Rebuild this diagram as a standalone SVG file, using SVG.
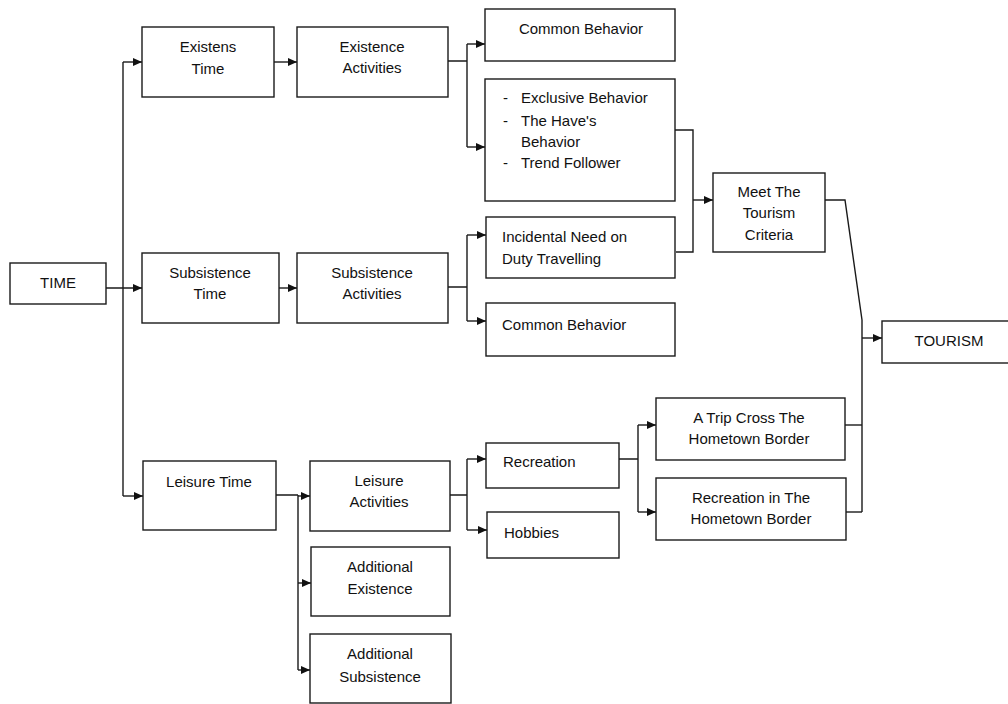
<svg xmlns="http://www.w3.org/2000/svg" width="1008" height="704" viewBox="0 0 1008 704">
<style>
.box{fill:#fff;stroke:#1a1a1a;stroke-width:1.4}
.t{font-family:"Liberation Sans",Arial,sans-serif;font-size:15px;fill:#111}
.c{text-anchor:middle}
.ln{fill:none;stroke:#1a1a1a;stroke-width:1.4}
</style>
<defs>
<marker id="ah" markerUnits="userSpaceOnUse" markerWidth="10" markerHeight="10" refX="9" refY="5" orient="auto">
<path d="M0,1 L9,5 L0,9 z" fill="#111"/>
</marker>
</defs>
<rect width="1008" height="704" fill="#fff"/>
<g id="connectors">
<path class="ln" d="M106,288 H142" marker-end="url(#ah)"/>
<path class="ln" d="M123,62 V496"/>
<path class="ln" d="M123,62 H142" marker-end="url(#ah)"/>
<path class="ln" d="M123,496 H143" marker-end="url(#ah)"/>
<path class="ln" d="M274,62 H297" marker-end="url(#ah)"/>
<path class="ln" d="M279,288 H297" marker-end="url(#ah)"/>
<path class="ln" d="M448,61 H467 M467,44 V147"/>
<path class="ln" d="M467,44 H485" marker-end="url(#ah)"/>
<path class="ln" d="M467,147 H485" marker-end="url(#ah)"/>
<path class="ln" d="M448,287 H467 M467,235 V321"/>
<path class="ln" d="M467,235 H486" marker-end="url(#ah)"/>
<path class="ln" d="M467,321 H486" marker-end="url(#ah)"/>
<path class="ln" d="M675,130 H693 V252 H676"/>
<path class="ln" d="M693,200 H713" marker-end="url(#ah)"/>
<path class="ln" d="M825,200 H845 L862,320 V512"/>
<path class="ln" d="M862,338 H882" marker-end="url(#ah)"/>
<path class="ln" d="M845,425 H862"/>
<path class="ln" d="M846,512 H862"/>
<path class="ln" d="M276,495 H298 M298,495 V670"/>
<path class="ln" d="M298,496 H310" marker-end="url(#ah)"/>
<path class="ln" d="M298,583 H311" marker-end="url(#ah)"/>
<path class="ln" d="M298,670 H310" marker-end="url(#ah)"/>
<path class="ln" d="M450,495 H467 M467,459 V530"/>
<path class="ln" d="M467,459 H486" marker-end="url(#ah)"/>
<path class="ln" d="M467,530 H487" marker-end="url(#ah)"/>
<path class="ln" d="M619,459 H638 M638,425 V512"/>
<path class="ln" d="M638,425 H656" marker-end="url(#ah)"/>
<path class="ln" d="M638,512 H656" marker-end="url(#ah)"/>
</g>
<g id="time"><rect class="box" x="10" y="263" width="96" height="41"/><text class="t c" x="58" y="288">TIME</text></g>
<g id="existens-time"><rect class="box" x="142" y="27" width="132" height="70"/><text class="t c" x="208" y="52">Existens</text><text class="t c" x="208" y="74">Time</text></g>
<g id="subsistence-time"><rect class="box" x="142" y="253" width="137" height="70"/><text class="t c" x="210" y="278">Subsistence</text><text class="t c" x="210" y="299">Time</text></g>
<g id="leisure-time"><rect class="box" x="143" y="461" width="133" height="69"/><text class="t c" x="209" y="487">Leisure Time</text></g>
<g id="existence-activities"><rect class="box" x="297" y="27" width="151" height="70"/><text class="t c" x="372" y="52">Existence</text><text class="t c" x="372" y="73">Activities</text></g>
<g id="subsistence-activities"><rect class="box" x="297" y="253" width="151" height="70"/><text class="t c" x="372" y="278">Subsistence</text><text class="t c" x="372" y="299">Activities</text></g>
<g id="leisure-activities"><rect class="box" x="310" y="461" width="140" height="70"/><text class="t c" x="379" y="486">Leisure</text><text class="t c" x="379" y="507">Activities</text></g>
<g id="additional-existence"><rect class="box" x="311" y="547" width="139" height="69"/><text class="t c" x="380" y="572">Additional</text><text class="t c" x="380" y="594">Existence</text></g>
<g id="additional-subsistence"><rect class="box" x="310" y="634" width="141" height="69"/><text class="t c" x="380" y="659">Additional</text><text class="t c" x="380" y="682">Subsistence</text></g>
<g id="common-behavior-1"><rect class="box" x="485" y="9" width="190" height="52"/><text class="t c" x="581" y="34">Common Behavior</text></g>
<g id="exclusive"><rect class="box" x="485" y="79" width="190" height="122"/>
<text class="t" x="503" y="103">-</text><text class="t" x="521" y="103">Exclusive Behavior</text>
<text class="t" x="503" y="126">-</text><text class="t" x="521" y="126">The Have's</text>
<text class="t" x="521" y="147">Behavior</text>
<text class="t" x="503" y="168">-</text><text class="t" x="521" y="168">Trend Follower</text></g>
<g id="incidental"><rect class="box" x="486" y="217" width="189" height="61"/><text class="t" x="502" y="242">Incidental Need on</text><text class="t" x="502" y="264">Duty Travelling</text></g>
<g id="common-behavior-2"><rect class="box" x="486" y="303" width="189" height="53"/><text class="t" x="502" y="330">Common Behavior</text></g>
<g id="recreation"><rect class="box" x="486" y="443" width="133" height="45"/><text class="t" x="503" y="467">Recreation</text></g>
<g id="hobbies"><rect class="box" x="487" y="512" width="132" height="46"/><text class="t" x="504" y="538">Hobbies</text></g>
<g id="meet-criteria"><rect class="box" x="713" y="173" width="112" height="79"/><text class="t c" x="769" y="197">Meet The</text><text class="t c" x="769" y="218">Tourism</text><text class="t c" x="769" y="240">Criteria</text></g>
<g id="trip-cross"><rect class="box" x="656" y="398" width="189" height="62"/><text class="t c" x="749" y="423">A Trip Cross The</text><text class="t c" x="749" y="444">Hometown Border</text></g>
<g id="recreation-hometown"><rect class="box" x="656" y="478" width="190" height="62"/><text class="t c" x="751" y="503">Recreation in The</text><text class="t c" x="751" y="524">Hometown Border</text></g>
<g id="tourism"><rect class="box" x="882" y="321" width="130" height="42"/><text class="t c" x="949" y="346">TOURISM</text></g>
</svg>
